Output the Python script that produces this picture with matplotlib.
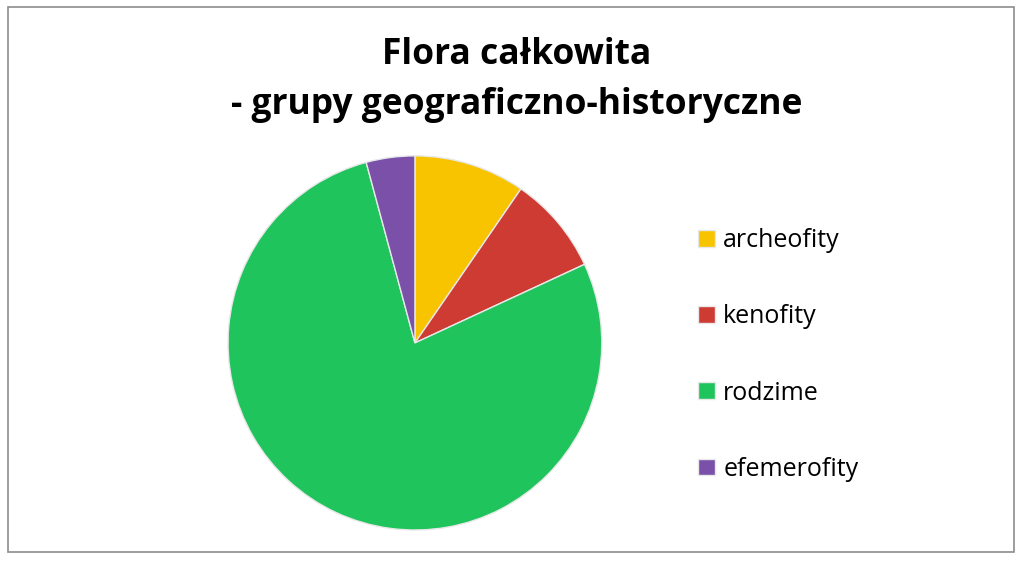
import matplotlib.pyplot as plt
from matplotlib.patches import Rectangle

# dane
labels = ["archeofity", "kenofity", "rodzime", "efemerofity"]
values = [9.6, 8.5, 77.7, 4.2]
colors = ["#F8C400", "#CE3B33", "#1FC45C", "#7A50A8"]

plt.rcParams['font.family'] = ['Open Sans', 'DejaVu Sans']

fig = plt.figure(figsize=(10.24, 5.66), dpi=100)

# ramka wykresu
fig.patches.append(Rectangle((0.008, 0.025), 0.982, 0.962, transform=fig.transFigure,
                             fill=False, edgecolor="#8c8c8c", linewidth=1.2))

ax = fig.add_axes([0.2227, 0.0636, 0.365, 0.661])
wedges, _ = ax.pie(values, colors=colors, startangle=90, counterclock=False,
                   radius=1, wedgeprops=dict(edgecolor="#e8e8e8", linewidth=1))
ax.set_xlim(-1.0, 1.0)
ax.set_ylim(-1.0, 1.0)
ax.set_aspect('auto')

fig.text(0.505, 0.902, "Flora całkowita", ha="center", va="center",
         fontsize=25.5, fontweight="bold")
fig.text(0.505, 0.814, "- grupy geograficzno-historyczne", ha="center", va="center",
         fontsize=25.5, fontweight="bold")

leg = fig.legend(wedges, labels, loc="center left", bbox_to_anchor=(0.66, 0.373),
                 frameon=False, fontsize=18, handlelength=0.65, handleheight=0.65,
                 handletextpad=0.35, labelspacing=2.05)

fig.savefig("out.png", dpi=100)
